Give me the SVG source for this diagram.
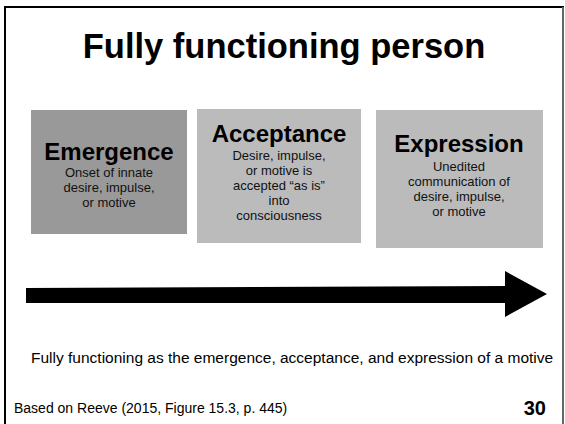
<svg xmlns="http://www.w3.org/2000/svg" width="565" height="424" viewBox="0 0 565 424">
<style>
text{font-family:"Liberation Sans",Arial,sans-serif;fill:#000}
.h{font-weight:bold;font-size:24px;text-anchor:middle}
.s{font-size:13px;text-anchor:middle;fill:#111}
</style>
<rect width="565" height="424" fill="#fff"/>
<path d="M5,430 V7 H563 V430" fill="none" stroke="#000" stroke-width="2"/>
<path d="M563,7 V430" stroke="#888" stroke-width="1.5"/>
<text x="284" y="58" font-size="34.5" font-weight="bold" text-anchor="middle">Fully functioning person</text>
<g id="emergence">
<rect x="31" y="110" width="156" height="124" fill="#999"/>
<text class="h" x="109" y="160">Emergence</text>
<text class="s" x="109" y="177">Onset of innate</text>
<text class="s" x="109" y="192">desire, impulse,</text>
<text class="s" x="109" y="207">or motive</text>
</g>
<g id="acceptance">
<rect x="197" y="109" width="164" height="134" fill="#bbb"/>
<text class="h" x="279" y="142">Acceptance</text>
<text class="s" x="279" y="160">Desire, impulse,</text>
<text class="s" x="279" y="175">or motive is</text>
<text class="s" x="279" y="190">accepted “as is”</text>
<text class="s" x="279" y="205">into</text>
<text class="s" x="279" y="220">consciousness</text>
</g>
<g id="expression">
<rect x="376" y="110" width="167" height="138" fill="#bbb"/>
<text class="h" x="459" y="152">Expression</text>
<text class="s" x="459" y="171">Unedited</text>
<text class="s" x="459" y="186">communication of</text>
<text class="s" x="459" y="201">desire, impulse,</text>
<text class="s" x="459" y="216">or motive</text>
</g>
<g id="connectors">
<polygon points="26,288 505,286 505,271 547,294 505,317 505,303 26,303" fill="#000"/>
</g>
<text x="31" y="363" font-size="15.5">Fully functioning as the emergence, acceptance, and expression of a motive</text>
<text x="14" y="413" font-size="14">Based on Reeve (2015, Figure 15.3, p. 445)</text>
<text x="546" y="415" font-size="20" font-weight="bold" text-anchor="end">30</text>
</svg>
